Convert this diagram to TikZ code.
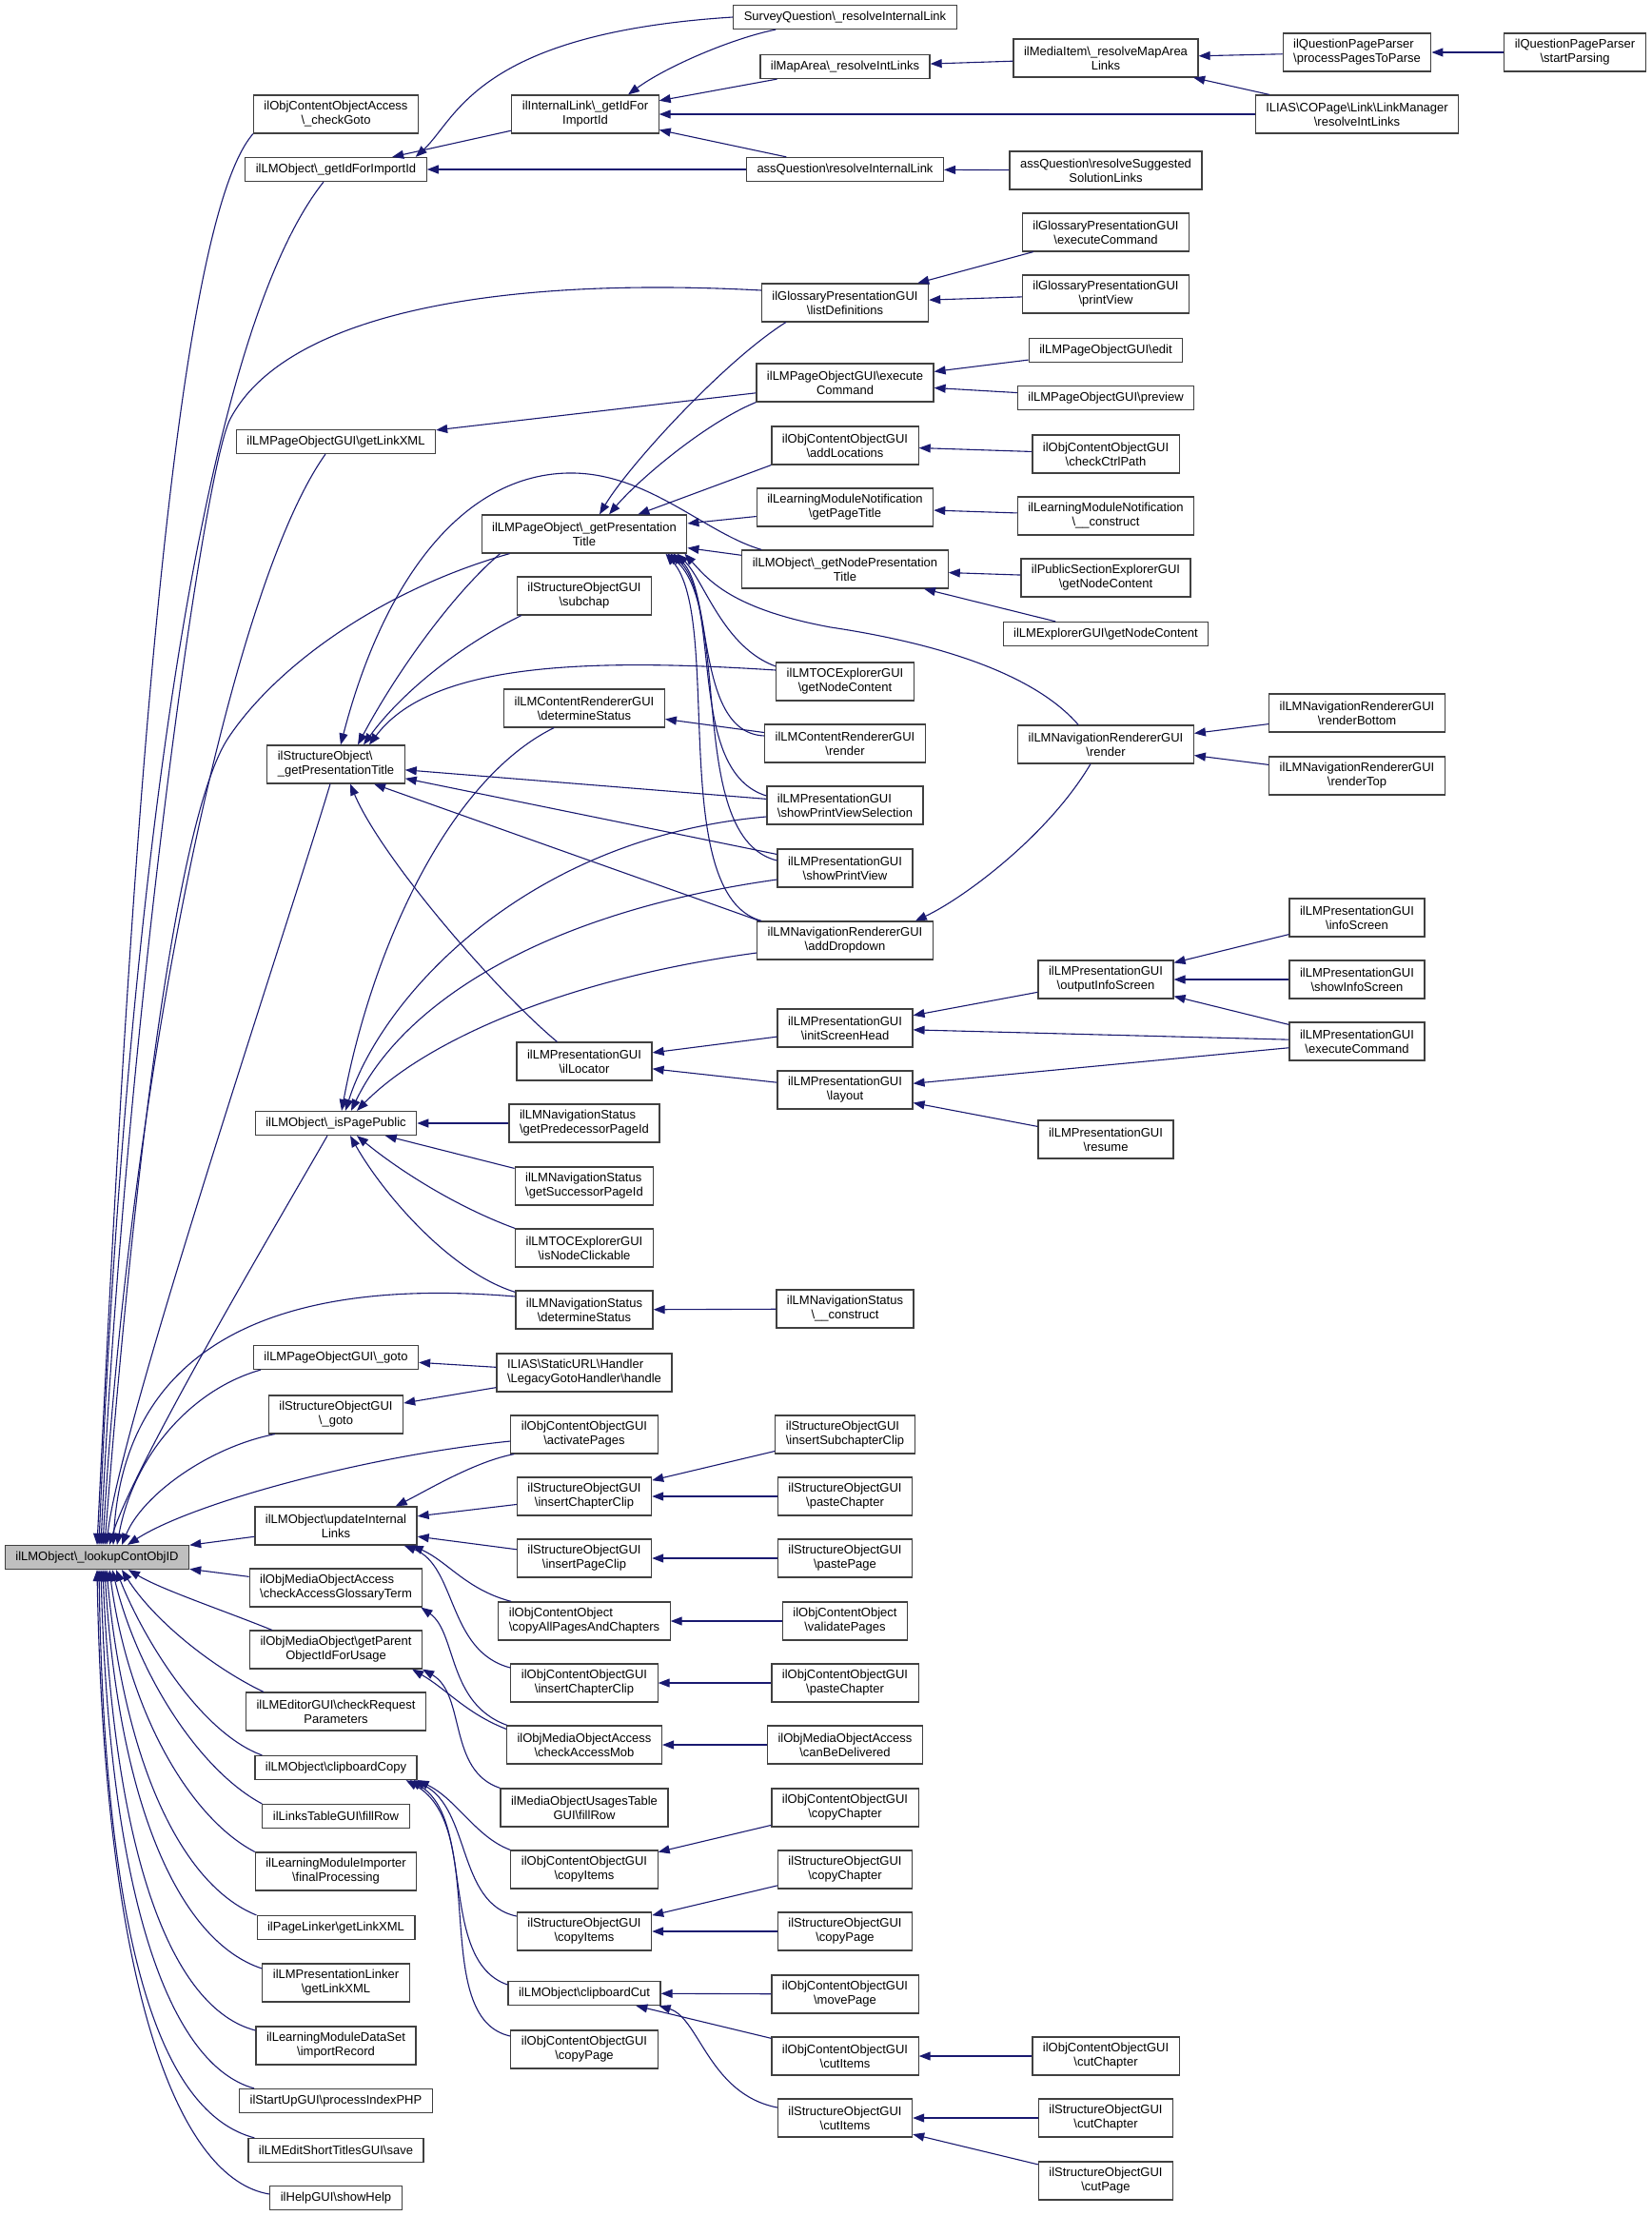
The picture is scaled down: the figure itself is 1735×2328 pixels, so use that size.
\documentclass[tikz,border=0pt]{standalone}
\usepackage{fontspec}
\setmainfont{Liberation Sans}
\usetikzlibrary{arrows.meta,calc}
\newcommand{\BSL}{\textbackslash}
\definecolor{edgec}{HTML}{191970}
\definecolor{boxc}{HTML}{404040}
\definecolor{rootc}{HTML}{BFBFBF}
\begin{document}
\begin{tikzpicture}[x=1pt,y=-1pt,
  box/.style={draw=boxc, line width=1.2pt, fill=white, font=\fontsize{13}{15}\selectfont,
    inner xsep=11pt, inner ysep=3pt, minimum height=25pt, align=center},
  two/.style={minimum height=40pt},
  lft/.style={align=left},
  e/.style={draw=edgec, line width=1.1pt, {Triangle[length=12pt,width=9pt]}-}]
\useasboundingbox[fill=white] (0,0) rectangle (1735,2328);

% column 0
\node[box,fill=rootc] (r0) at (102,1636) {ilLMObject\BSL\_lookupContObjID};
% column 1
\node[box,two] (n1a) at (353,120) {ilObjContentObjectAccess\\\BSL\_checkGoto};
\node[box] (n1b) at (353,178) {ilLMObject\BSL\_getIdForImportId};
\node[box] (n1c) at (353,464) {ilLMPageObjectGUI\BSL getLinkXML};
\node[box,two,lft] (n1d) at (353,803) {ilStructureObject\BSL\\\_getPresentationTitle};
\node[box] (n1e) at (353,1180) {ilLMObject\BSL\_isPagePublic};
\node[box] (n1f) at (353,1426) {ilLMPageObjectGUI\BSL\_goto};
\node[box,two] (n1g) at (353,1486) {ilStructureObjectGUI\\\BSL\_goto};
\node[box,two] (n1h) at (353,1603) {ilLMObject\BSL updateInternal\\Links};
\node[box,two,lft] (n1i) at (353,1668) {ilObjMediaObjectAccess\\\BSL checkAccessGlossaryTerm};
\node[box,two] (n1j) at (353,1733) {ilObjMediaObject\BSL getParent\\ObjectIdForUsage};
\node[box,two] (n1k) at (353,1798) {ilLMEditorGUI\BSL checkRequest\\Parameters};
\node[box] (n1l) at (353,1857) {ilLMObject\BSL clipboardCopy};
\node[box] (n1m) at (353,1908) {ilLinksTableGUI\BSL fillRow};
\node[box,two] (n1n) at (353,1966) {ilLearningModuleImporter\\\BSL finalProcessing};
\node[box] (n1o) at (353,2025) {ilPageLinker\BSL getLinkXML};
\node[box,two] (n1p) at (353,2083) {ilLMPresentationLinker\\\BSL getLinkXML};
\node[box,two] (n1q) at (353,2149) {ilLearningModuleDataSet\\\BSL importRecord};
\node[box] (n1r) at (353,2207) {ilStartUpGUI\BSL processIndexPHP};
\node[box] (n1s) at (353,2259) {ilLMEditShortTitlesGUI\BSL save};
\node[box] (n1t) at (353,2309) {ilHelpGUI\BSL showHelp};
% column 2
\node[box,two] (n2a) at (615,120) {ilInternalLink\BSL\_getIdFor\\ImportId};
\node[box,two] (n2b) at (614,561) {ilLMPageObject\BSL\_getPresentation\\Title};
\node[box,two] (n2c) at (614,626) {ilStructureObjectGUI\\\BSL subchap};
\node[box,two] (n2d) at (614,744) {ilLMContentRendererGUI\\\BSL determineStatus};
\node[box,two] (n2e) at (614,1115) {ilLMPresentationGUI\\\BSL ilLocator};
\node[box,two,lft] (n2f) at (614,1180) {ilLMNavigationStatus\\\BSL getPredecessorPageId};
\node[box,two,lft] (n2g) at (614,1246) {ilLMNavigationStatus\\\BSL getSuccessorPageId};
\node[box,two] (n2h) at (614,1311) {ilLMTOCExplorerGUI\\\BSL isNodeClickable};
\node[box,two] (n2i) at (614,1376) {ilLMNavigationStatus\\\BSL determineStatus};
\node[box,two,lft] (n2j) at (614,1442) {ILIAS\BSL StaticURL\BSL Handler\\\BSL LegacyGotoHandler\BSL handle};
\node[box,two] (n2k) at (614,1507) {ilObjContentObjectGUI\\\BSL activatePages};
\node[box,two] (n2l) at (614,1572) {ilStructureObjectGUI\\\BSL insertChapterClip};
\node[box,two] (n2m) at (614,1637) {ilStructureObjectGUI\\\BSL insertPageClip};
\node[box,two,lft] (n2n) at (614,1703) {ilObjContentObject\\\BSL copyAllPagesAndChapters};
\node[box,two] (n2o) at (614,1768) {ilObjContentObjectGUI\\\BSL insertChapterClip};
\node[box,two] (n2p) at (614,1833) {ilObjMediaObjectAccess\\\BSL checkAccessMob};
\node[box,two] (n2q) at (614,1899) {ilMediaObjectUsagesTable\\GUI\BSL fillRow};
\node[box,two] (n2r) at (614,1964) {ilObjContentObjectGUI\\\BSL copyItems};
\node[box,two] (n2s) at (614,2029) {ilStructureObjectGUI\\\BSL copyItems};
\node[box] (n2t) at (614,2094) {ilLMObject\BSL clipboardCut};
\node[box,two] (n2u) at (614,2153) {ilObjContentObjectGUI\\\BSL copyPage};
% column 3
\node[box] (n3a) at (888,18) {SurveyQuestion\BSL\_resolveInternalLink};
\node[box] (n3b) at (888,70) {ilMapArea\BSL\_resolveIntLinks};
\node[box] (n3c) at (888,178) {assQuestion\BSL resolveInternalLink};
\node[box,two] (n3d) at (888,318) {ilGlossaryPresentationGUI\\\BSL listDefinitions};
\node[box,two] (n3e) at (888,402) {ilLMPageObjectGUI\BSL execute\\Command};
\node[box,two] (n3f) at (888,468) {ilObjContentObjectGUI\\\BSL addLocations};
\node[box,two] (n3g) at (888,533) {ilLearningModuleNotification\\\BSL getPageTitle};
\node[box,two] (n3h) at (888,598) {ilLMObject\BSL\_getNodePresentation\\Title};
\node[box,two] (n3i) at (888,716) {ilLMTOCExplorerGUI\\\BSL getNodeContent};
\node[box,two] (n3j) at (888,781) {ilLMContentRendererGUI\\\BSL render};
\node[box,two,lft] (n3k) at (888,846) {ilLMPresentationGUI\\\BSL showPrintViewSelection};
\node[box,two] (n3l) at (888,912) {ilLMPresentationGUI\\\BSL showPrintView};
\node[box,two] (n3m) at (888,988) {ilLMNavigationRendererGUI\\\BSL addDropdown};
\node[box,two] (n3n) at (888,1080) {ilLMPresentationGUI\\\BSL initScreenHead};
\node[box,two] (n3o) at (888,1145) {ilLMPresentationGUI\\\BSL layout};
\node[box,two] (n3p) at (888,1375) {ilLMNavigationStatus\\\BSL\_\_construct};
\node[box,two,lft] (n3q) at (888,1507) {ilStructureObjectGUI\\\BSL insertSubchapterClip};
\node[box,two] (n3r) at (888,1572) {ilStructureObjectGUI\\\BSL pasteChapter};
\node[box,two] (n3s) at (888,1637) {ilStructureObjectGUI\\\BSL pastePage};
\node[box,two] (n3t) at (888,1703) {ilObjContentObject\\\BSL validatePages};
\node[box,two] (n3u) at (888,1768) {ilObjContentObjectGUI\\\BSL pasteChapter};
\node[box,two] (n3v) at (888,1833) {ilObjMediaObjectAccess\\\BSL canBeDelivered};
\node[box,two] (n3w) at (888,1899) {ilObjContentObjectGUI\\\BSL copyChapter};
\node[box,two] (n3x) at (888,1964) {ilStructureObjectGUI\\\BSL copyChapter};
\node[box,two] (n3y) at (888,2029) {ilStructureObjectGUI\\\BSL copyPage};
\node[box,two] (n3z) at (888,2095) {ilObjContentObjectGUI\\\BSL movePage};
\node[box,two] (n3A) at (888,2160) {ilObjContentObjectGUI\\\BSL cutItems};
\node[box,two] (n3B) at (888,2225) {ilStructureObjectGUI\\\BSL cutItems};
% column 4
\node[box,two] (n4a) at (1162,61) {ilMediaItem\BSL\_resolveMapArea\\Links};
\node[box,two] (n4b) at (1162,179) {assQuestion\BSL resolveSuggested\\SolutionLinks};
\node[box,two] (n4c) at (1162,244) {ilGlossaryPresentationGUI\\\BSL executeCommand};
\node[box,two] (n4d) at (1162,309) {ilGlossaryPresentationGUI\\\BSL printView};
\node[box] (n4e) at (1162,368) {ilLMPageObjectGUI\BSL edit};
\node[box] (n4f) at (1162,418) {ilLMPageObjectGUI\BSL preview};
\node[box,two] (n4g) at (1162,477) {ilObjContentObjectGUI\\\BSL checkCtrlPath};
\node[box,two] (n4h) at (1162,542) {ilLearningModuleNotification\\\BSL\_\_construct};
\node[box,two] (n4i) at (1162,607) {ilPublicSectionExplorerGUI\\\BSL getNodeContent};
\node[box] (n4j) at (1162,666) {ilLMExplorerGUI\BSL getNodeContent};
\node[box,two] (n4k) at (1162,782) {ilLMNavigationRendererGUI\\\BSL render};
\node[box,two] (n4l) at (1162,1029) {ilLMPresentationGUI\\\BSL outputInfoScreen};
\node[box,two] (n4m) at (1162,1197) {ilLMPresentationGUI\\\BSL resume};
\node[box,two] (n4n) at (1162,2160) {ilObjContentObjectGUI\\\BSL cutChapter};
\node[box,two] (n4o) at (1162,2225) {ilStructureObjectGUI\\\BSL cutChapter};
\node[box,two] (n4p) at (1162,2291) {ilStructureObjectGUI\\\BSL cutPage};
% column 5
\node[box,two,lft] (n5a) at (1426,55) {ilQuestionPageParser\\\BSL processPagesToParse};
\node[box,two] (n5b) at (1426,120) {ILIAS\BSL COPage\BSL Link\BSL LinkManager\\\BSL resolveIntLinks};
\node[box,two] (n5c) at (1426,749) {ilLMNavigationRendererGUI\\\BSL renderBottom};
\node[box,two] (n5d) at (1426,815) {ilLMNavigationRendererGUI\\\BSL renderTop};
\node[box,two] (n5e) at (1426,964) {ilLMPresentationGUI\\\BSL infoScreen};
\node[box,two] (n5f) at (1426,1029) {ilLMPresentationGUI\\\BSL showInfoScreen};
\node[box,two] (n5g) at (1426,1094) {ilLMPresentationGUI\\\BSL executeCommand};
% column 6
\node[box,two] (n6a) at (1655,55) {ilQuestionPageParser\\\BSL startParsing};

% ---------- edges into the root ----------
\draw[e] ($(r0.north)+(0,0)$) .. controls (128,1100) and (170,250) .. (n1a.south west);
\draw[e] ($(r0.north)+(2,0)$) .. controls (125,1100) and (190,380) .. ($(n1b.south)+(-13,0)$);
\draw[e] ($(r0.north)+(4,0)$) .. controls (130,1100) and (213,495) .. (242,440) .. controls (300,330) and (520,290) .. ($(n3d.west)+(0,-13)$);
\draw[e] ($(r0.north)+(6,0)$) .. controls (135,1150) and (240,620) .. ($(n1c.south)+(-11,0)$);
\draw[e] ($(r0.north)+(8,0)$) .. controls (135,1300) and (180,865) .. (240,775) .. controls (290,700) and (400,620) .. ($(n2b.south west)+(30,0)$);
\draw[e] ($(r0.north)+(10,0)$) .. controls (125,1500) and (300,980) .. ($(n1d.south)+(-6,0)$);
\draw[e] ($(r0.north)+(13,0)$) .. controls (140,1540) and (300,1270) .. ($(n1e.south)+(-9,0)$);
\draw[e] ($(r0.north)+(17,0)$) .. controls (130,1420) and (280,1340) .. ($(n2i.west)+(0,-14)$);
\draw[e] ($(r0.north)+(21,0)$) .. controls (140,1530) and (200,1460) .. ($(n1f.south west)+(8,0)$);
\draw[e] ($(r0.north)+(26,0)$) .. controls (150,1570) and (220,1520) .. ($(n1g.south west)+(7,0)$);
\draw[e] ($(r0.north)+(32,0)$) .. controls (200,1580) and (380,1530) .. ($(n2k.west)+(0,7)$);
\draw[e] (r0) -- (n1h);
\draw[e] (r0) -- (n1i);
\draw[e] ($(r0.south)+(33,0)$) .. controls (170,1670) and (230,1690) .. ($(n1j.north west)+(24,0)$);
\draw[e] ($(r0.south)+(26,0)$) .. controls (160,1700) and (220,1750) .. ($(n1k.north west)+(19,0)$);
\draw[e] ($(r0.south)+(20,0)$) .. controls (150,1720) and (210,1820) .. ($(n1l.north west)+(8,0)$);
\draw[e] ($(r0.south)+(16,0)$) .. controls (145,1760) and (210,1860) .. (n1m.north west);
\draw[e] ($(r0.south)+(13,0)$) .. controls (135,1800) and (200,1910) .. (n1n.north west);
\draw[e] ($(r0.south)+(10,0)$) .. controls (130,1850) and (190,1980) .. (n1o.north west);
\draw[e] ($(r0.south)+(8,0)$) .. controls (125,1900) and (190,2040) .. ($(n1p.west)+(0,-15)$);
\draw[e] ($(r0.south)+(6,0)$) .. controls (120,1950) and (180,2110) .. ($(n1q.west)+(0,-16)$);
\draw[e] ($(r0.south)+(4,0)$) .. controls (115,2000) and (180,2170) .. ($(n1r.north west)+(16,0)$);
\draw[e] ($(r0.south)+(2,0)$) .. controls (110,2050) and (170,2220) .. ($(n1s.north west)+(7,0)$);
\draw[e] ($(r0.south)+(0,0)$) .. controls (110,2100) and (190,2290) .. ($(n1t.west)+(0,-4)$);

% ---------- top area ----------
\draw[e] (n5a) -- (n6a);
\draw[e] (n4a) -- (n5a);
\draw[e] (n4a) -- (n5b);
\draw[e] (n2a) -- (n5b);
\draw[e] (n3b) -- (n4a);
\draw[e] (n2a) -- (n3b);
\draw[e] ($(n2a.north)+(45,0)$) .. controls (700,70) and (770,40) .. ($(n3a.south west)+(45,0)$);
\draw[e] ($(n1b.north east)+(-12,0)$) .. controls (480,125) and (500,35) .. (n3a.west);
\draw[e] (n1b) -- (n3c);
\draw[e] (n2a) -- (n3c);
\draw[e] (n3c) -- (n4b);
\draw[e] (n1b) -- (n2a);
\draw[e] (n3d) -- (n4c);
\draw[e] (n3d) -- (n4d);
\draw[e] (n3e) -- (n4e);
\draw[e] (n3e) -- (n4f);
\draw[e] (n3f) -- (n4g);
\draw[e] (n3g) -- (n4h);
\draw[e] (n3h) -- (n4i);
\draw[e] (n3h) -- (n4j);
\draw[e] (n1c) -- (n3e);

% ---------- ilLMPageObject::_getPresentationTitle ----------
\draw[e] ($(n2b.north)+(16,0)$) .. controls (660,490) and (760,380) .. ($(n3d.south west)+(26,0)$);
\draw[e] ($(n2b.north)+(26,0)$) .. controls (670,505) and (740,445) .. (n3e.south west);
\draw[e] ($(n2b.north east)+(-52,0)$) -- (n3f.south west);
\draw[e] (n2b) -- (n3g);
\draw[e] (n2b) -- (n3h);
\draw[e] ($(n2b.south east)+(-11,0)$) .. controls (740,610) and (760,680) .. ($(n3i.west)+(0,-16)$);
\draw[e] ($(n2b.south east)+(-15,0)$) .. controls (750,620) and (730,770) .. ($(n3j.west)+(0,-8)$);
\draw[e] ($(n2b.south east)+(-18,0)$) .. controls (760,630) and (720,810) .. ($(n3k.west)+(0,-10)$);
\draw[e] ($(n2b.south east)+(-21,0)$) .. controls (770,640) and (720,880) .. ($(n3l.west)+(0,-8)$);
\draw[e] ($(n2b.south east)+(-23,0)$) .. controls (760,650) and (700,940) .. ($(n3m.north west)+(5,0)$);
\draw[e] ($(n2b.south east)+(-3,0)$) .. controls (745,610) and (770,640) .. (873,659) .. controls (960,672) and (1080,700) .. ($(n4k.north west)+(64,0)$);

% ---------- ilStructureObject::_getPresentationTitle ----------
\draw[e] ($(n1d.north)+(5,0)$) .. controls (400,620) and (480,500) .. (596,497) .. controls (680,495) and (740,560) .. ($(n3h.north west)+(21,0)$);
\draw[e] ($(n1d.north)+(23,0)$) .. controls (420,700) and (480,620) .. ($(n2b.south west)+(20,0)$);
\draw[e] ($(n1d.north)+(29,0)$) .. controls (420,730) and (480,680) .. ($(n2c.south west)+(5,0)$);
\draw[e] ($(n1d.north)+(35,0)$) .. controls (450,700) and (600,690) .. ($(n3i.west)+(0,-12)$);
\draw[e] (n1d) -- (n3k);
\draw[e] (n1d) -- (n3l);
\draw[e] ($(n1d.south)+(40,0)$) -- ($(n3m.north west)+(3,0)$);
\draw[e] ($(n1d.south)+(15,0)$) .. controls (400,900) and (520,1040) .. ($(n2e.north west)+(43,0)$);

% ---------- ilLMObject::_isPagePublic ----------
\draw[e] ($(n1e.north)+(6,0)$) .. controls (390,1000) and (470,820) .. ($(n2d.south west)+(53,0)$);
\draw[e] ($(n1e.north)+(10,0)$) .. controls (400,1050) and (550,880) .. ($(n3k.west)+(0,12)$);
\draw[e] ($(n1e.north)+(16,0)$) .. controls (420,1060) and (560,960) .. ($(n3l.west)+(0,12)$);
\draw[e] ($(n1e.north)+(22,0)$) .. controls (440,1100) and (580,1030) .. ($(n3m.west)+(0,13)$);
\draw[e] (n1e) -- (n2f);
\draw[e] (n1e) -- (n2g);
\draw[e] ($(n1e.south)+(22,0)$) .. controls (420,1230) and (480,1268) .. (n2h.north west);
\draw[e] ($(n1e.south)+(15,0)$) .. controls (400,1250) and (470,1335) .. ($(n2i.north west)+(0,2)$);
\draw[e] (n2i) -- (n3p);

% ---------- middle right ----------
\draw[e] (n4k) -- (n5c);
\draw[e] (n4k) -- (n5d);
\draw[e] ($(n3m.north east)+(-19,0)$) .. controls (1010,945) and (1100,880) .. ($(n4k.south)+(-16,0)$);
\draw[e] (n2d) -- (n3j);
\draw[e] (n3n) -- (n4l);
\draw[e] (n3n) -- (n5g);
\draw[e] (n3o) -- (n5g);
\draw[e] (n3o) -- (n4m);
\draw[e] (n4l) -- (n5e);
\draw[e] (n4l) -- (n5f);
\draw[e] (n4l) -- (n5g);
\draw[e] (n2e) -- (n3n);
\draw[e] (n2e) -- (n3o);

% ---------- goto ----------
\draw[e] (n1f) -- (n2j);
\draw[e] (n1g) -- (n2j);

% ---------- updateInternalLinks ----------
\draw[e] (n2l) -- (n3q);
\draw[e] (n2l) -- (n3r);
\draw[e] (n2m) -- (n3s);
\draw[e] (n2n) -- (n3t);
\draw[e] (n2o) -- (n3u);
\draw[e] (n2p) -- (n3v);
\draw[e] (n1h) -- (n2l);
\draw[e] (n1h) -- (n2m);
\draw[e] ($(n1h.north east)+(-23,0)$) .. controls (450,1565) and (500,1535) .. ($(n2k.south west)+(4,0)$);
\draw[e] ($(n1h.south east)+(-6,0)$) .. controls (470,1640) and (490,1670) .. ($(n2n.north west)+(14,0)$);
\draw[e] ($(n1h.south east)+(-14,0)$) .. controls (480,1645) and (470,1735) .. ($(n2o.west)+(0,-16)$);

% ---------- media objects ----------
\draw[e] ($(n1i.south east)+(-2,0)$) .. controls (480,1715) and (470,1790) .. ($(n2p.north west)+(1,0)$);
\draw[e] ($(n1j.south east)+(-11,0)$) .. controls (470,1775) and (490,1800) .. ($(n2p.north west)+(0,4)$);
\draw[e] ($(n1j.south east)+(0,0)$) .. controls (490,1780) and (470,1860) .. (n2q.north west);

% ---------- clipboard ----------
\draw[e] ($(n1l.south east)+(0,0)$) .. controls (480,1890) and (500,1930) .. (n2r.north west);
\draw[e] ($(n1l.south east)+(-4,0)$) .. controls (495,1900) and (480,2000) .. ($(n2s.west)+(0,-16)$);
\draw[e] ($(n1l.south east)+(-8,0)$) .. controls (500,1910) and (460,2060) .. ($(n2t.west)+(0,-9)$);
\draw[e] ($(n1l.south east)+(-12,0)$) .. controls (515,1920) and (450,2120) .. ($(n2u.west)+(0,-14)$);
\draw[e] (n2r) -- (n3w);
\draw[e] (n2s) -- (n3x);
\draw[e] (n2s) -- (n3y);
\draw[e] (n2t) -- (n3z);
\draw[e] (n2t) -- (n3A);
\draw[e] ($(n2t.south east)+(-2,0)$) .. controls (735,2120) and (745,2200) .. ($(n3B.west)+(0,-11)$);
\draw[e] (n3A) -- (n4n);
\draw[e] (n3B) -- (n4o);
\draw[e] (n3B) -- (n4p);
\end{tikzpicture}
\end{document}
